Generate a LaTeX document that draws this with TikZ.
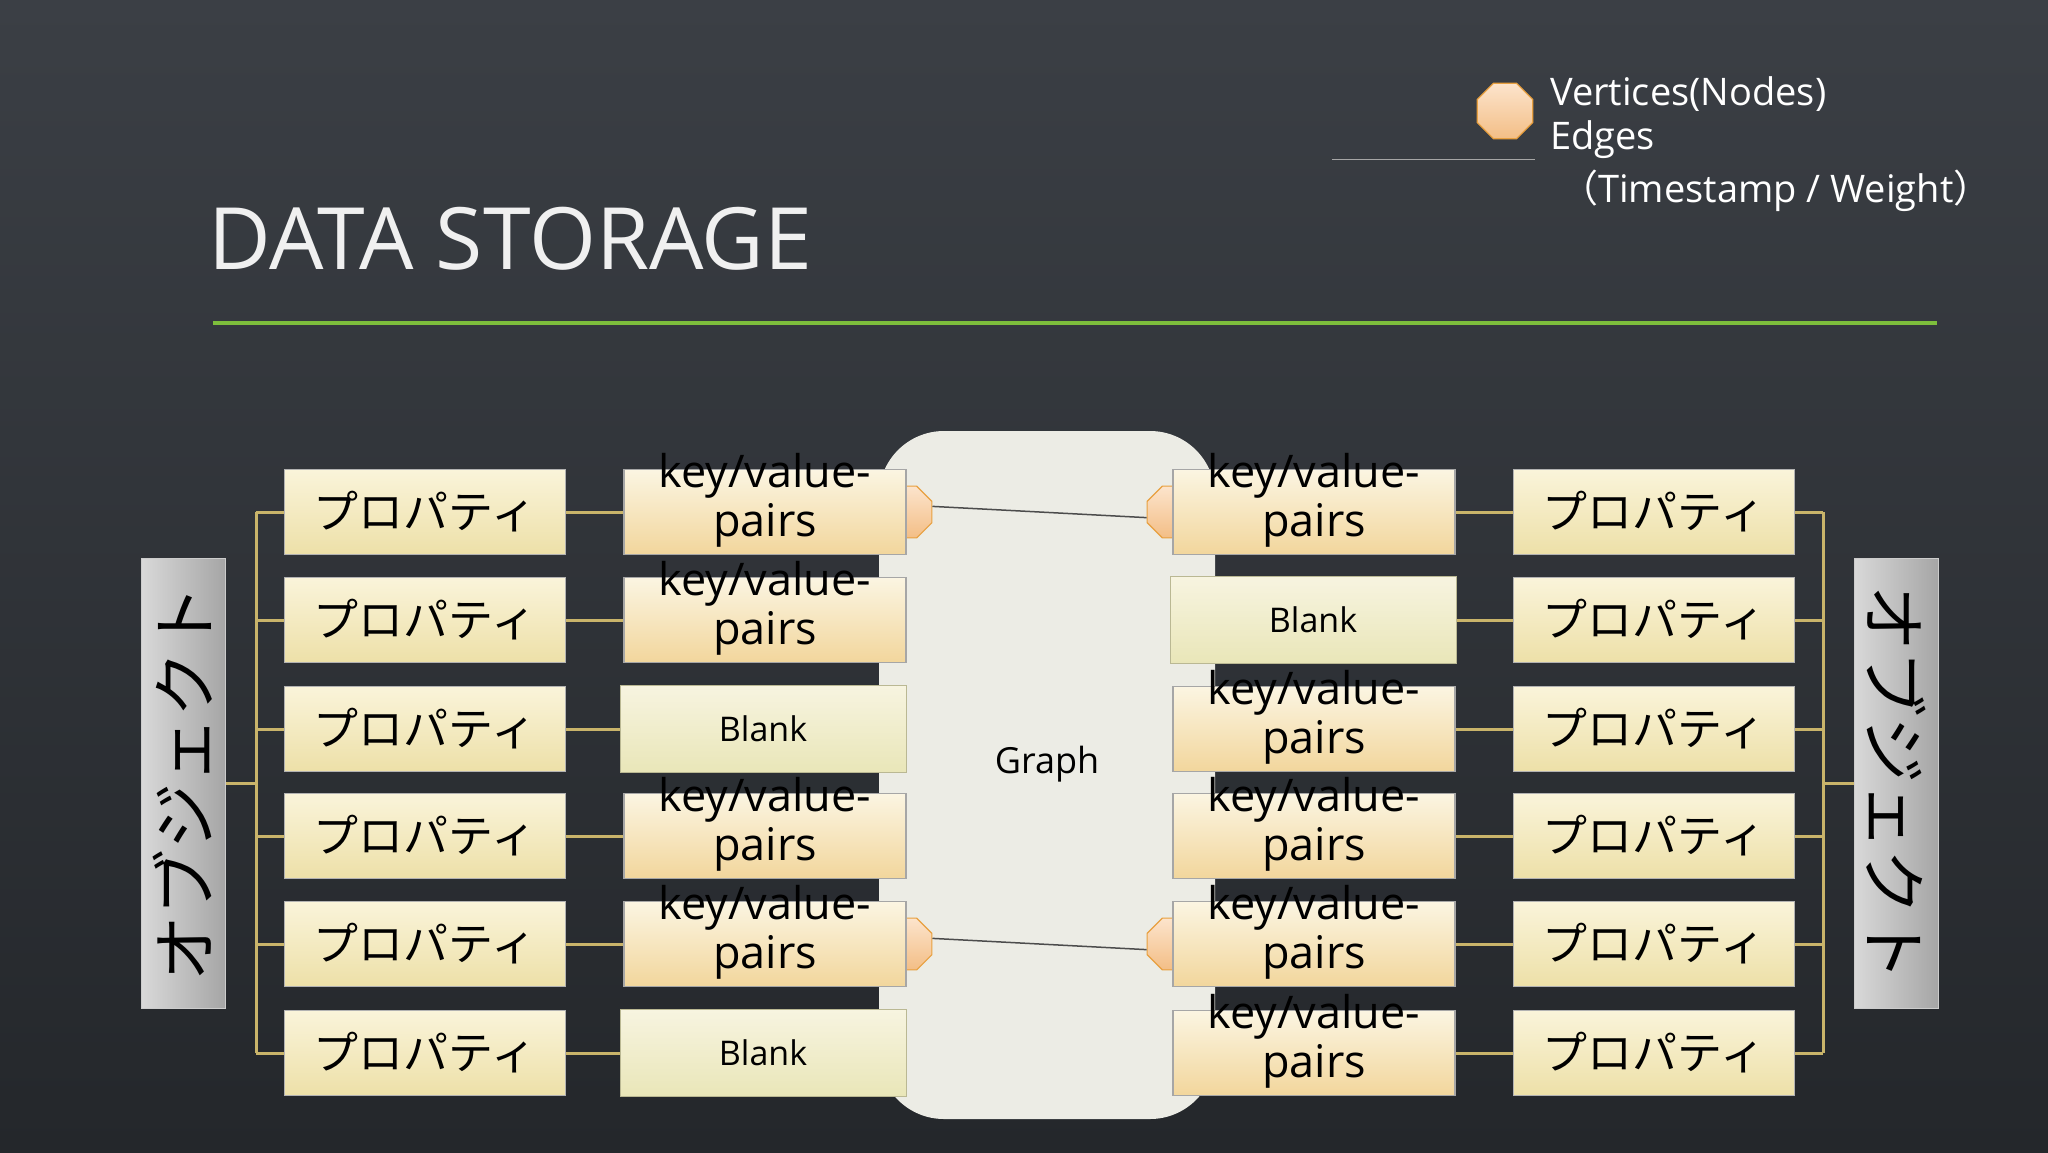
\documentclass[tikz,border=0pt]{standalone}
\usepackage{fontspec}
\setmainfont{Open Sans}
\newfontfamily\jp{Noto Sans CJK JP}
\usetikzlibrary{shapes.geometric,calc}
\definecolor{bgA}{HTML}{3B3F45}
\definecolor{bgB}{HTML}{24272B}
\definecolor{creamT}{HTML}{FBF5E2}
\definecolor{tanB}{HTML}{F2D69C}
\definecolor{propT}{HTML}{FAF4DA}
\definecolor{propB}{HTML}{EDE0A8}
\definecolor{blankT}{HTML}{F7F4E0}
\definecolor{blankB}{HTML}{E9E6B8}
\definecolor{conn}{HTML}{C9B46A}
\definecolor{octT}{HTML}{FCE4CC}
\definecolor{octB}{HTML}{F3BE86}
\definecolor{octD}{HTML}{E8A040}
\definecolor{glin}{HTML}{7DBE3C}
\definecolor{gfill}{HTML}{ECECE5}
\tikzset{
 kvbox/.style={draw=gray!70,line width=1.2pt,top color=creamT,bottom color=tanB,minimum width=282,minimum height=85,inner sep=0},
 propbox/.style={draw=gray!60,line width=1.2pt,top color=propT,bottom color=propB,minimum width=281,minimum height=85,inner sep=0,font=\jp\fontsize{45}{49}\selectfont},
 blankbox/.style={draw=blankB!80!black,line width=1pt,top color=blankT,bottom color=blankB,minimum width=286,minimum height=87,inner sep=0,font=\fontsize{34}{38}\selectfont},
 kvtext/.style={align=center,font=\fontsize{45}{49}\selectfont,inner sep=0},
 vert/.style={regular polygon,regular polygon sides=8,minimum size=56,inner sep=0,draw=octD,line width=1.2pt,top color=octT,bottom color=octB},
 objbar/.style={draw=gray!40,line width=1pt,left color=gray!30,right color=gray!70,minimum width=84,minimum height=450,inner sep=0},
 cn/.style={conn,line width=3pt},
 edgeln/.style={draw=black!70,line width=1.5pt}
}
\begin{document}
\begin{tikzpicture}[x=1pt,y=-1pt]
\shade[top color=bgA,bottom color=bgB] (0,0) rectangle (2048,1152);
\useasboundingbox (0,0) rectangle (2048,1152);
% title
\node[anchor=west,text=white!88!gray,font=\fontsize{86}{90}\selectfont,inner sep=0] (title) at (208,239) {DATA STORAGE};
\draw[glin,line width=4pt] (213,323) coordinate (gl) -- (1937,323) coordinate (gr);
% legend
\node[vert,minimum size=60] (lv) at (1505,111) {};
\node[anchor=west,text=white,font=\fontsize{38}{42}\selectfont,inner sep=0] (lt1) at (1550,94) {Vertices(Nodes)};
\node[anchor=west,text=white,font=\fontsize{38}{42}\selectfont,inner sep=0] (lt2) at (1550,140) {Edges};
\node[anchor=west,text=white,font=\fontsize{38}{42}\selectfont,inner sep=0] (lt3) at (1560,191) {{\jp （}Timestamp / Weight{\jp ）}};
\draw[gray!70,line width=1pt] (1332,159) coordinate (la) -- (1535,159) coordinate (lb);
% graph
\node[draw=none,fill=gfill,rounded corners=65,minimum width=336,minimum height=688,inner sep=0] (graph) at (1047,775) {};
\node[font=\fontsize{36}{40}\selectfont] (gtext) at (1047,764) {Graph};
% object bars
\node[objbar] (objL) at (183,783) {};
\node[rotate=90,font=\jp\fontsize{66}{70}\selectfont] (objLt) at (183,783) {オブジェクト};
\node[objbar] (objR) at (1896,783) {};
\node[rotate=-90,font=\jp\fontsize{66}{70}\selectfont] (objRt) at (1896,783) {オブジェクト};
% brackets
\coordinate (bl1) at (256,512); \coordinate (bl6) at (256,1053); \coordinate (blm) at (256,783);
\coordinate (br1) at (1823,512); \coordinate (br6) at (1823,1053); \coordinate (brm) at (1823,783);
\draw[cn] (bl1) -- (bl6); \draw[cn] (objL.east) -- (blm);
\draw[cn] (br1) -- (br6); \draw[cn] (objR.west) -- (brm);
% vertices behind boxes
\node[vert] (v1) at (906,512) {};
\node[vert] (v5) at (906,944) {};
\node[vert] (w1) at (1173,512) {};
\node[vert] (w5) at (1173,944) {};
\draw[edgeln] (v1.12) -- (w1.192);
\draw[edgeln] (v5.12) -- (w5.192);
% rows
\foreach \i/\y/\lt/\rt in {1/512/k/k,2/620/k/b,3/729/b/k,4/836/k/k,5/944/k/k,6/1053/b/k}{
  \node[propbox] (pl\i) at (425,\y) {プロパティ};
  \node[propbox] (pr\i) at (1654,\y) {プロパティ};
  \draw[cn] (256,\y) coordinate (tl\i) -- (pl\i.west);
  \draw[cn] (pr\i.east) -- (1823,\y) coordinate (tr\i);
  \if k\lt
    \node[kvbox] (kl\i) at (765,\y) {};
    \node[kvtext] (klt\i) at (765,\y-12) {key/value-\\pairs};
  \else
    \node[blankbox] (kl\i) at (763,\y) {Blank};
  \fi
  \if k\rt
    \node[kvbox] (kr\i) at (1314,\y) {};
    \node[kvtext] (krt\i) at (1314,\y-12) {key/value-\\pairs};
  \else
    \node[blankbox] (kr\i) at (1313,\y) {Blank};
  \fi
  \draw[cn] (pl\i.east) -- (kl\i.west);
  \draw[cn] (kr\i.east) -- (pr\i.west);
}
\end{tikzpicture}
\end{document}
